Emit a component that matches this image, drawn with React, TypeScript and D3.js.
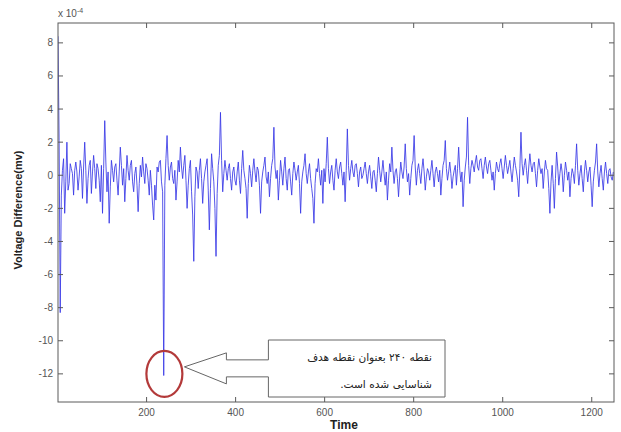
import { useLayoutEffect, useRef, useState } from "react";
import * as d3 from "d3";

const W = 621;
const H = 432;

// sampled every 2.5 time steps, starting at t = 1 (units of 1e-4 mV)
const T0 = 1;
const STEP = 2.5;
const voltage = [
  8.4, 2.1, -8.3, -1.2, 0.3, 1.0, -2.3, -0.4, 2.0, -0.9, -0.5, 0.7, 0.4, 0.1, -1.2, 0.3, 0.8, 0.2, -0.9, -0.1,
  0.9, 0.4, -1.4, 0.5, 2.0, 0.3, -1.7, -0.2, 0.6, 0.9, -1.1, 0.2, 1.2, 0.4, -0.8, 0.7, 0.4, -0.3, -1.6, 0.6,
  -2.3, 0.4, 3.3, 0.8, -1.0, 0.2, -2.9, -0.7, 0.9, 0.3, -0.4, 0.5, 0.7, -0.3, -1.2, 0.2, 1.7, 0.6, -0.6, 0.4,
  -1.6, -0.2, 1.2, 0.3, -0.3, 0.6, 0.9, -0.4, -1.0, 0.1, 0.5, -0.6, -2.2, -0.5, 0.6, -0.1, 1.1, 0.2, -0.5, 0.7,
  0.4, -0.3, -1.2, 0.3, -0.6, -1.8, -2.7, -0.6, -1.5, 0.5, 0.2, 0.8, 0.9, -0.4, -1.0, -12.1, -0.6, 1.0, 2.4, 0.6,
  -0.3, 0.5, 0.8, -0.2, -0.5, 0.3, -1.5, -0.4, 0.9, 0.2, 1.7, 0.5, -0.2, 0.6, 1.2, -0.3, -2.0, -0.6, 0.4, 0.9,
  -1.0, -2.4, -5.2, -1.3, 0.5, 0.2, -0.8, 0.3, 1.0, -0.2, -1.7, -0.4, 0.2, 0.6, 1.0, -0.9, -3.3, -0.8, 1.3, 0.4,
  -0.4, -2.0, -4.9, -1.1, 0.6, 1.2, 3.8, 0.9, -1.0, 0.1, 0.9, 0.3, -0.3, 0.4, 0.7, -0.2, -0.9, 0.2, 0.5, -0.3,
  -0.6, 0.2, 0.8, -0.3, -1.1, 0.4, 1.5, 0.3, -0.2, -0.8, -2.6, -0.5, 0.6, 0.1, -0.7, 0.3, 1.0, 0.2, -0.4, 0.5,
  0.3, -0.6, -2.3, -0.4, 0.2, 0.6, 1.1, -0.1, -0.5, 0.2, -1.3, -0.2, 0.6, 1.0, 2.9, 0.5, -0.2, 0.3, -1.5, -0.3,
  0.9, 0.2, -0.6, 0.4, 1.1, -0.2, -0.9, 0.3, 0.4, -0.4, -1.2, 0.1, 0.8, 0.3, -0.3, 0.2, 0.6, -0.5, -2.3, -0.4,
  0.2, 0.6, 1.3, 0.1, -0.5, 0.2, 0.7, -0.2, -0.8, -1.4, -2.9, -0.5, 0.4, 0.2, 1.0, 0.1, -0.6, 0.3, -1.7, 0.4,
  -0.4, 0.7, 2.3, 0.4, -0.5, 0.2, 0.6, -0.3, -0.9, 0.3, 1.0, 0.2, -0.2, 0.5, 0.8, 0.1, -0.6, 0.2, -1.6, 0.3,
  2.8, 0.6, -0.3, 0.4, 0.9, 0.2, -0.1, 0.6, 0.7, 0.1, -0.7, 0.2, 0.5, -0.2, 0.0, 0.4, 0.8, 0.1, -0.5, 0.2,
  0.6, -0.1, -0.8, 0.2, 0.3, -0.3, -1.0, 0.1, 1.1, 0.3, -0.4, 0.2, 0.9, 0.1, -0.6, 0.2, -1.5, -0.3, 0.7, 0.2,
  1.7, 0.3, -0.5, 0.2, 0.4, -0.2, -1.3, -0.1, 0.8, 0.2, -0.2, 0.5, 1.9, 0.4, -0.4, 0.1, -1.2, -0.2, 0.6, 0.9,
  2.4, 0.5, -0.6, 0.3, 0.7, 0.1, -0.5, 0.4, 1.0, 0.2, -0.9, -0.1, 0.4, 0.2, -0.3, 0.3, 0.9, 0.1, -0.7, 0.2,
  0.5, 0.1, -0.4, 0.3, -1.2, -0.2, 0.6, 0.9, 2.1, 0.4, -0.3, 0.2, 0.8, 0.1, -0.8, -0.1, 0.3, 0.6, -0.6, 0.4,
  1.7, 0.3, -0.4, 0.2, -1.9, -0.3, 0.5, 1.1, 3.5, 0.6, -0.5, 0.4, 0.9, 0.6, 0.2, 0.8, 1.2, 0.5, 0.3, 0.9,
  1.0, 0.4, -0.2, 0.6, 1.1, 0.5, 0.1, 0.7, 0.9, 0.3, -0.3, 0.2, -0.9, 0.1, 0.8, 0.4, 0.2, 0.7, 1.0, 0.4,
  -0.2, 0.5, 1.2, 0.6, 0.1, 0.5, 0.9, 0.2, -0.4, 0.4, 1.1, 0.6, 0.2, -0.3, -1.3, 0.4, 2.6, 0.7, 0.0, 0.6,
  1.0, 0.3, -0.5, 0.5, 1.3, 0.6, 0.2, 0.7, 0.8, 0.1, -0.7, 0.3, 1.0, 0.5, 0.1, 0.4, -0.8, 0.2, 0.9, 0.4,
  0.3, -0.8, -2.3, -0.4, 0.6, -0.5, -2.0, -0.2, 1.4, 0.5, -0.6, 0.1, 0.7, 0.2, -1.0, 0.0, 0.8, 0.3, -0.3, 0.2,
  -1.3, -0.2, 0.4, 0.1, -0.5, 0.6, 1.9, 0.3, -0.6, 0.1, 0.6, -0.2, -1.0, 0.2, 0.9, 0.3, -0.4, 0.2, 0.5, -0.6,
  -1.9, -0.4, 0.3, 0.8, 1.9, 0.2, -0.7, 0.1, 0.6, -0.2, -0.9, 0.2, 0.8, 0.1, -0.5, 0.3, 0.4, -0.1, -0.3, 0.2,
];

const xTicks = [200, 400, 600, 800, 1000, 1200];
const yTicks = [-12, -10, -8, -6, -4, -2, 0, 2, 4, 6, 8];
const xLabel = "Time";
const yLabel = "Voltage Difference(mv)";
const noteLines = ["نقطه ۲۴۰ بعنوان نقطه هدف", "شناسایی شده است."];
const noteWidths = [125, 92];
const targetT = 240;
const targetV = -12;

export default function App() {
  const noteRefs = useRef<(SVGTextElement | null)[]>([]);
  const [noteScale, setNoteScale] = useState([1, 1]);

  // stretch each callout line to the width it has in the figure
  useLayoutEffect(() => {
    const s = noteRefs.current.map((el, i) => {
      const w = el ? el.getBBox().width : 0;
      return w > 0 ? noteWidths[i] / w : 1;
    });
    setNoteScale(s);
  }, []);

  const m = { left: 58, right: 614, top: 23, bottom: 402 };
  const x = d3.scaleLinear().domain([1, 1250]).range([m.left, m.right]);
  const y = d3.scaleLinear().domain([-13.7, 9.2]).range([m.bottom, m.top]);

  const line = d3
    .line<number>()
    .x((_, i) => x(T0 + i * STEP))
    .y((d) => y(d));

  const axisColor = "#5a5a5a";
  const tickLen = 5;

  // callout geometry, hung off the circled point
  const cx = x(targetT);
  const cy = y(targetV);
  const tip = [cx + 20, cy - 7];
  const headX = tip[0] + 42;
  const boxL = headX + 42;
  const boxR = 445;
  const boxT = 340;
  const boxB = 397;
  const callout = [
    tip,
    [headX, tip[1] - 14],
    [headX, tip[1] - 7],
    [boxL, tip[1] - 7],
    [boxL, boxT],
    [boxR, boxT],
    [boxR, boxB],
    [boxL, boxB],
    [boxL, tip[1] + 10],
    [headX, tip[1] + 10],
    [headX, tip[1] + 17],
  ];

  return (
    <svg
      width={W}
      height={H}
      style={{ position: "fixed", left: 0, top: 0, background: "#fff" }}
      fontFamily="'Liberation Sans', Arial, sans-serif"
    >
      <rect width={W} height={H} fill="#fff" />

      <clipPath id="plot">
        <rect x={m.left} y={m.top} width={m.right - m.left} height={m.bottom - m.top} />
      </clipPath>
      <path
        d={line(voltage) ?? ""}
        fill="none"
        stroke="#3838e6"
        strokeWidth={0.85}
        strokeLinejoin="round"
        clipPath="url(#plot)"
      />

      {/* box and ticks, matlab style */}
      <rect
        x={m.left}
        y={m.top}
        width={m.right - m.left}
        height={m.bottom - m.top}
        fill="none"
        stroke={axisColor}
        strokeWidth={1}
      />
      {xTicks.map((t) => (
        <g key={"x" + t}>
          <line x1={x(t)} x2={x(t)} y1={m.bottom} y2={m.bottom - tickLen} stroke={axisColor} />
          <line x1={x(t)} x2={x(t)} y1={m.top} y2={m.top + tickLen} stroke={axisColor} />
          <text x={x(t)} y={m.bottom + 14} textAnchor="middle" fontSize={10} fill="#555">
            {t}
          </text>
        </g>
      ))}
      {yTicks.map((t) => (
        <g key={"y" + t}>
          <line x1={m.left} x2={m.left + tickLen} y1={y(t)} y2={y(t)} stroke={axisColor} />
          <line x1={m.right} x2={m.right - tickLen} y1={y(t)} y2={y(t)} stroke={axisColor} />
          <text x={m.left - 5} y={y(t) + 3.5} textAnchor="end" fontSize={10} fill="#555">
            {t}
          </text>
        </g>
      ))}
      <text x={m.left} y={m.top - 6} fontSize={10} fill="#555">
        x 10
        <tspan dy={-4} fontSize={7}>
          -4
        </tspan>
      </text>

      <text x={344} y={429} textAnchor="middle" fontSize={12} fontWeight="bold" fill="#222">
        {xLabel}
      </text>
      <text
        transform="translate(22,210) rotate(-90)"
        textAnchor="middle"
        fontSize={11}
        fontWeight="bold"
        fill="#222"
      >
        {yLabel}
      </text>

      <ellipse cx={cx} cy={cy} rx={18} ry={23} fill="none" stroke="#b33a3a" strokeWidth={2.2} />
      <polygon
        points={callout.map((p) => p.join(",")).join(" ")}
        fill="#fff"
        stroke="#666"
        strokeWidth={1}
      />
      {noteLines.map((s, i) => (
        <g key={i} transform={`translate(432,${361 + i * 27}) scale(${noteScale[i]},1)`}>
          <text
            ref={(el) => {
              noteRefs.current[i] = el;
            }}
            x={0}
            y={0}
            direction="rtl"
            textAnchor="start"
            fontSize={11}
            fontFamily="'DejaVu Sans', sans-serif"
            fill="#222"
          >
            {s}
          </text>
        </g>
      ))}
    </svg>
  );
}
